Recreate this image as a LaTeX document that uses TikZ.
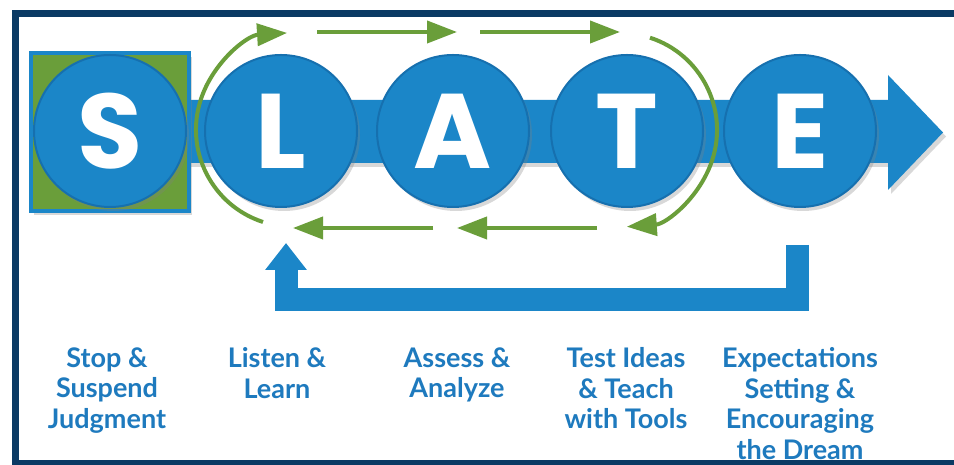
\documentclass[tikz,border=0pt]{standalone}
\usepackage{fontspec}
\setsansfont{Lato}
\newfontfamily\letterfont{Poppins}
\usetikzlibrary{arrows.meta,shadows}

\definecolor{slateblue}{RGB}{27,134,200}
\definecolor{rimblue}{RGB}{22,112,175}
\definecolor{framenavy}{RGB}{10,58,100}
\definecolor{loopgreen}{RGB}{106,158,58}
\definecolor{textblue}{RGB}{30,122,190}

\tikzset{
  stepcircle/.style={circle, fill=slateblue, draw=rimblue, line width=1pt,
    minimum size=76pt, inner sep=0pt, text=white,
    font=\letterfont\bfseries\fontsize{53}{53}\selectfont,
    drop shadow={shadow xshift=1.5pt, shadow yshift=-2pt, opacity=0.3}},
  stopbox/.style={rectangle, fill=loopgreen, draw=slateblue, line width=2pt,
    minimum size=79pt, inner sep=0pt,
    drop shadow={shadow xshift=1.5pt, shadow yshift=-2pt, opacity=0.3}},
  steplabel/.style={anchor=north, inner sep=0pt, align=center, text=textblue,
    font=\sffamily\bfseries\fontsize{13.5}{15.3}\selectfont},
  greenarrow/.style={draw=loopgreen, line width=2pt,
    -{Triangle[length=15pt,width=11pt]}},
  backarrow/.style={draw=slateblue, line width=11.5pt,
    -{Triangle[length=13.5pt,width=20pt]}},
}

\begin{document}
\begin{tikzpicture}[x=0.5pt, y=0.5pt]
    \useasboundingbox (0,0) rectangle (954,465);
    \clip (0,0) rectangle (954,465);
    \fill[white] (0,0) rectangle (954,465);
    \draw[framenavy, line width=3.5pt] (15.5,1) rectangle (962,451.5);

    % main band with arrow head
    \fill[slateblue, drop shadow={shadow xshift=1.5pt, shadow yshift=-2pt, opacity=0.3}]
        (185,302) -- (888,302) -- (888,275) -- (943,332.5) -- (888,390)
        -- (888,365) -- (185,365) -- cycle;

    \node[stopbox] (sbox) at (110,333) {};
    \node[stepcircle] (s) at (110,334) {S};
    \node[stepcircle] (l) at (281,334) {L};
    \node[stepcircle] (a) at (453,334) {A};
    \node[stepcircle] (t) at (627,334) {T};
    \node[stepcircle] (e) at (800,334) {E};

    % green loop
    \coordinate (ta1) at (317,433);
    \coordinate (ta2) at (457,433);
    \coordinate (tb1) at (480,433);
    \coordinate (tb2) at (620,433);
    \coordinate (ba1) at (433,237);
    \coordinate (ba2) at (293,237);
    \coordinate (bb1) at (597,237);
    \coordinate (bb2) at (457,237);
    \coordinate (arcl) at (263,243);
    \coordinate (arct) at (650,427.3);
    \foreach \from/\to in {ta1/ta2, tb1/tb2, ba1/ba2, bb1/bb2}
        \draw[greenarrow] (\from) -- (\to);
    \draw[greenarrow] (arcl) arc[start angle=252, end angle=93.5, radius=48.5pt];
    \draw[greenarrow] (arct) arc[start angle=72, end angle=-86, radius=48.5pt];

    % return arrow
    \coordinate (eback) at (797,220);
    \coordinate (lback) at (286,222);
    \draw[backarrow] (eback) -- ++(0,-55) -| (lback);

    \node[steplabel] (sl) at (107,118) {Stop \&\\Suspend\\Judgment};
    \node[steplabel] (ll) at (277,118) {Listen \&\\Learn};
    \node[steplabel] (al) at (457,118) {Assess \&\\Analyze};
    \node[steplabel] (tl) at (626,118) {Test Ideas\\\& Teach\\with Tools};
    \node[steplabel] (el) at (800,118) {Expectations\\Setting \&\\Encouraging\\the Dream};
\end{tikzpicture}
\end{document}
